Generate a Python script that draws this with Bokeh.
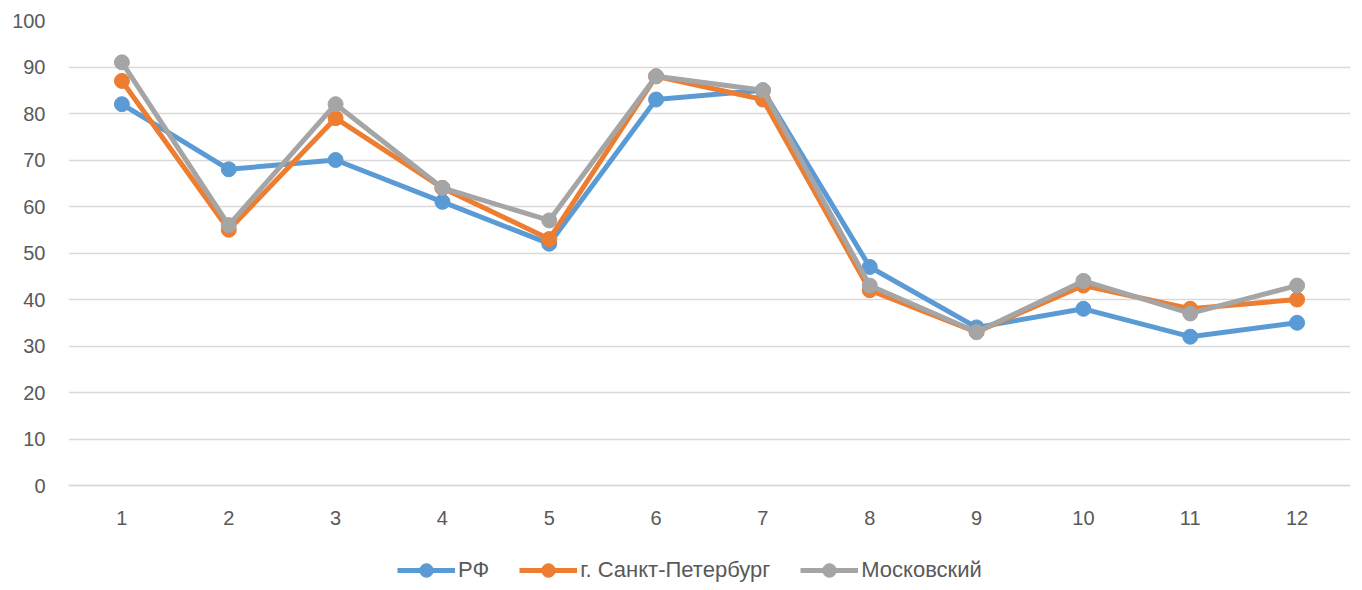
from bokeh.plotting import figure
from bokeh.models import Range1d, Legend, LegendItem, FixedTicker
from bokeh.embed import file_html
from bokeh.resources import INLINE

months = [1, 2, 3, 4, 5, 6, 7, 8, 9, 10, 11, 12]
rf = [82, 68, 70, 61, 52, 83, 85, 47, 34, 38, 32, 35]
spb = [87, 55, 79, 64, 53, 88, 83, 42, 33, 43, 38, 40]
mosk = [91, 56, 82, 64, 57, 88, 85, 43, 33, 44, 37, 43]
y_ticks = list(range(0, 101, 10))
names = ["РФ", "г. Санкт-Петербург", "Московский"]
colors = ["#5B9BD5", "#ED7D31", "#A5A5A5"]

FONT = "Liberation Sans"
# frame spans 568px vertically; 0..100 occupies 465px, leaving 103px below zero
y_low = -100 * 103 / 465

p = figure(width=1354, height=588, output_backend="svg", toolbar_location=None,
           x_range=Range1d(0.5, 12.5), y_range=Range1d(y_low, 100),
           min_border_left=68, min_border_right=4, min_border_top=20, min_border_bottom=0)
p.outline_line_color = None
p.xgrid.grid_line_color = None
p.ygrid.grid_line_color = "#D9D9D9"
p.ygrid.grid_line_width = 1.3
p.yaxis.ticker = FixedTicker(ticks=y_ticks)
p.xaxis.ticker = FixedTicker(ticks=months)
p.xaxis.fixed_location = 0
for ax in (p.xaxis, p.yaxis):
    ax.major_tick_line_color = None
    ax.minor_tick_line_color = None
    ax.major_label_text_font = FONT
    ax.major_label_text_font_size = "20px"
    ax.major_label_text_color = "#595959"
p.yaxis.axis_line_color = None
p.xaxis.axis_line_color = "#D9D9D9"
p.xaxis.axis_line_width = 1.3
p.xaxis.major_label_standoff = 19
p.yaxis.major_label_standoff = 17

items = []
for vals, name, col in zip([rf, spb, mosk], names, colors):
    l = p.line(months, vals, line_color=col, line_width=5)
    c = p.scatter(months, vals, size=15, fill_color=col, line_color=col)
    items.append(LegendItem(label=name, renderers=[l, c]))

legend = Legend(items=items, orientation="horizontal", location=(329, 1),
                label_text_font=FONT, label_text_font_size="22px",
                label_text_color="#595959", glyph_width=58, glyph_height=34,
                spacing=30, border_line_color=None, background_fill_alpha=0,
                margin=0, padding=0, label_standoff=3)
p.add_layout(legend, "center")

open("out.html", "w").write(file_html(p, INLINE))
